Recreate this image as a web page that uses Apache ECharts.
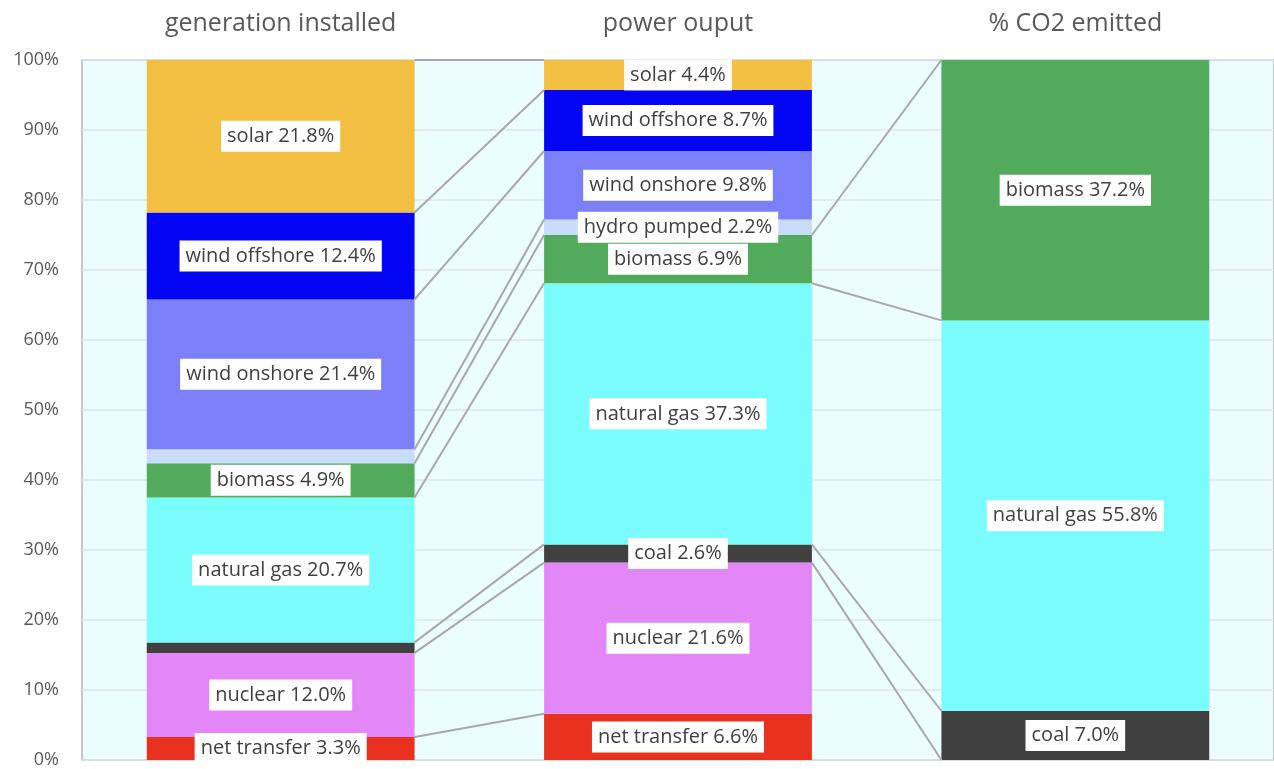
<!DOCTYPE html>
<html>
<head>
<meta charset="utf-8">
<script src="https://cdn.jsdelivr.net/npm/echarts@6/dist/echarts.min.js"></script>
<style>
html,body{margin:0;padding:0;background:#fff;}
#chart{width:1274px;height:769px;}
</style>
</head>
<body>
<div id="chart"></div>
<script>
var categories = ['generation installed', 'power ouput', '% CO2 emitted'];
var seriesNames = ['net transfer', 'nuclear', 'coal', 'natural gas', 'biomass', 'hydro pumped', 'wind onshore', 'wind offshore', 'solar'];
var colors = ['#e8321f', '#e386f8', '#404040', '#7bfcfc', '#52ab5c', '#c9dcfb', '#7b7ff8', '#0505f5', '#f2bf42'];

var netTransfer  = [3.3, 6.6, null];
var nuclear      = [12.0, 21.6, null];
var coal         = [1.5, 2.6, 7.0];
var naturalGas   = [20.7, 37.3, 55.8];
var biomass      = [4.9, 6.9, 37.2];
var hydroPumped  = [2.0, 2.2, null];
var windOnshore  = [21.4, 9.8, null];
var windOffshore = [12.4, 8.7, null];
var solar        = [21.8, 4.4, null];

// series whose connector line is not drawn between power output and CO2
var noLinkToCO2 = ['net transfer', 'hydro pumped', 'wind onshore', 'wind offshore', 'solar'];

var values = [netTransfer, nuclear, coal, naturalGas, biomass, hydroPumped, windOnshore, windOffshore, solar];
var barGap = 0.326;
var font = 'Open Sans';

// stacked tops for series lines
var tops = [];
var run = [0, 0, 0];
values.forEach(function (arr) {
	run = run.map(function (r, i) { return r + (arr[i] || 0); });
	tops.push(run.slice());
});
var linkData = [];
seriesNames.forEach(function (name, s) {
	for (var i = 0; i < categories.length - 1; i++) {
		if (i === 1 && noLinkToCO2.indexOf(name) >= 0) continue;
		linkData.push([i, i + 1, tops[s][i], Math.min(tops[s][i + 1], 100)]);
	}
});

var series = seriesNames.map(function (name, s) {
	return {
		name: name,
		type: 'bar',
		stack: 'all',
		barCategoryGap: (barGap * 100) + '%',
		itemStyle: { color: colors[s] },
		label: {
			show: true,
			position: 'inside',
			formatter: function (p) { return p.seriesName + ' ' + p.value.toFixed(1) + '%'; },
			backgroundColor: '#ffffff',
			color: '#404040',
			fontFamily: font,
			fontSize: 20,
			padding: [6, 6, 5, 6]
		},
		data: values[s].map(function (v) {
			return { value: v, label: { show: v != null && v >= 2.1 } };
		})
	};
});

series.push({
	type: 'custom',
	name: 'links',
	silent: true,
	z: 5,
	encode: { x: [0, 1], y: [2, 3] },
	renderItem: function (params, api) {
		var half = api.size([1, 0])[0] * (1 - barGap) / 2;
		var a = api.coord([api.value(0), api.value(2)]);
		var b = api.coord([api.value(1), api.value(3)]);
		return {
			type: 'line',
			shape: { x1: a[0] + half, y1: a[1], x2: b[0] - half, y2: b[1] },
			style: { stroke: '#a8a8a8', lineWidth: 2 }
		};
	},
	data: linkData
});

var chart = echarts.init(document.getElementById('chart'));
chart.setOption({
	animation: false,
	grid: {
		left: 82, right: 0, top: 60, bottom: 7,
		show: true,
		backgroundColor: '#ebfdfe',
		borderColor: '#b5b5b5',
		borderWidth: 1.5
	},
	xAxis: {
		type: 'category',
		position: 'top',
		data: categories,
		axisTick: { show: false },
		axisLine: { show: false },
		axisLabel: { color: '#595959', fontFamily: font, fontSize: 25, margin: 24 }
	},
	yAxis: {
		type: 'value',
		min: 0, max: 100, interval: 10,
		axisLine: { show: false },
		axisLabel: {
			color: '#595959', fontFamily: font, fontSize: 18, margin: 23,
			formatter: '{value}%'
		},
		splitLine: { lineStyle: { color: '#dfe6e6', width: 1.5 } }
	},
	series: series
});
</script>
</body>
</html>
